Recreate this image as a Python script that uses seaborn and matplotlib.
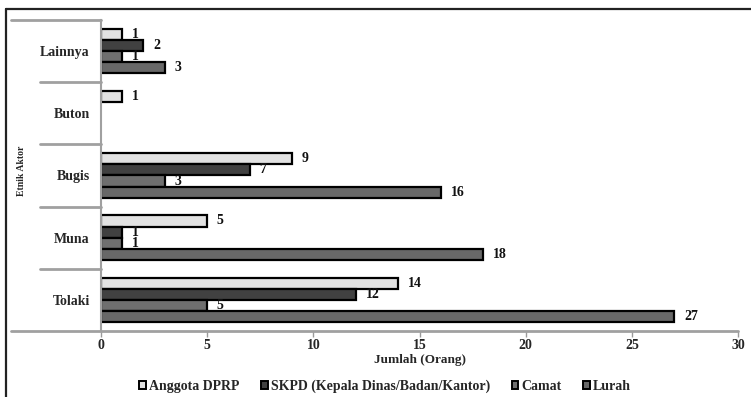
import matplotlib
matplotlib.use("Agg")
import matplotlib.pyplot as plt
from matplotlib.lines import Line2D
import matplotlib.transforms as mtransforms
import seaborn as sns
import pandas as pd

# Data
categories = ["Lainnya", "Buton", "Bugis", "Muna", "Tolaki"]
series_names = ["Anggota DPRP", "SKPD (Kepala Dinas/Badan/Kantor)", "Camat", "Lurah"]
anggota_dprp = [1, 1, 9, 5, 14]
skpd = [2, 0, 7, 1, 12]
camat = [1, 0, 3, 1, 5]
lurah = [3, 0, 16, 18, 27]
x_ticks = [0, 5, 10, 15, 20, 25, 30]
colors = ["#e2e2e2", "#414141", "#6f6f6f", "#686868"]

rows = []
for name, vals in zip(series_names, [anggota_dprp, skpd, camat, lurah]):
    for cat, v in zip(categories, vals):
        rows.append({"Etnik": cat, "Jabatan": name, "Jumlah": v})
df = pd.DataFrame(rows)

sns.set_theme(style="white")
plt.rcParams["font.family"] = ["Liberation Serif", "DejaVu Serif"]
plt.rcParams["font.weight"] = "bold"

W, H = 751, 397
fig = plt.figure(figsize=(W / 100, H / 100), dpi=100)
x0, x1, y_top, y_bot = 101, 738, 20, 331
ax = fig.add_axes([x0 / W, 1 - y_bot / H, (x1 - x0) / W, (y_bot - y_top) / H])

sns.barplot(data=df, y="Etnik", x="Jumlah", hue="Jabatan", order=categories,
            hue_order=series_names, palette=colors, orient="h", width=0.72,
            edgecolor="black", linewidth=1.6, saturation=1, ax=ax, legend=True)

# hide empty bars and add value labels
for cont in ax.containers:
    for p in cont.patches:
        if p.get_width() == 0:
            p.set_visible(False)
    labels = [f"{v:g}" if v else "" for v in cont.datavalues]
    ax.bar_label(cont, labels=labels, padding=7, fontsize=10, fontweight="bold",
                 color="#111111")

ax.set_xlim(0, 30)
ax.set_ylim(4.5, -0.5)
ax.set_xticks(x_ticks)
ax.set_xticklabels([str(t) for t in x_ticks], fontsize=10, fontweight="bold")
ax.tick_params(axis="x", bottom=True, length=4, width=1, color="#9a9a9a", pad=1.5)
ax.tick_params(axis="y", left=False, length=0, pad=8)
for lab in ax.get_yticklabels():
    lab.set_fontsize(10)
    lab.set_fontweight("bold")

for s in ["top", "right"]:
    ax.spines[s].set_visible(False)
ax.spines["bottom"].set_visible(False)
ax.spines["left"].set_color("#a0a0a0")
ax.spines["left"].set_linewidth(1.5)

ax.set_xlabel("Jumlah (Orang)", fontsize=9.5, fontweight="bold", labelpad=2)
ax.set_ylabel("")
fig.text(22 / W, 1 - 171 / H, "Etnik Aktor", rotation=90,
         ha="center", va="center", fontsize=7, fontweight="bold")

# category separators of the grouped axis
trans = mtransforms.blended_transform_factory(ax.transAxes, ax.transData)
span = x1 - x0
sep_kw = dict(color="#a0a0a0", linewidth=2, clip_on=False, transform=trans)
for yb in [0.5, 1.5, 2.5, 3.5]:
    ax.plot([(40 - x0) / span, 0], [yb, yb], **sep_kw)
ax.plot([(11 - x0) / span, 0], [-0.5, -0.5], **sep_kw)
ax.plot([(11 - x0) / span, 1], [4.5, 4.5], **sep_kw)

# legend
leg = ax.legend(loc="center", bbox_to_anchor=(0.446, -0.177), ncol=4,
                frameon=False, fontsize=10, handlelength=0.5, handleheight=0.5,
                handletextpad=0.2, columnspacing=1.55, borderaxespad=0)
for t in leg.get_texts():
    t.set_fontweight("bold")
for hnd in leg.legend_handles:
    hnd.set_linewidth(1.4)

# outer frame lines
fig.add_artist(Line2D([6 / W, 1], [1 - 9 / H, 1 - 9 / H], color="#222222",
                      linewidth=1.6, transform=fig.transFigure))
fig.add_artist(Line2D([6 / W, 6 / W], [0, 1 - 9 / H], color="#222222",
                      linewidth=1.6, transform=fig.transFigure))

fig.savefig("out.png", dpi=100)
